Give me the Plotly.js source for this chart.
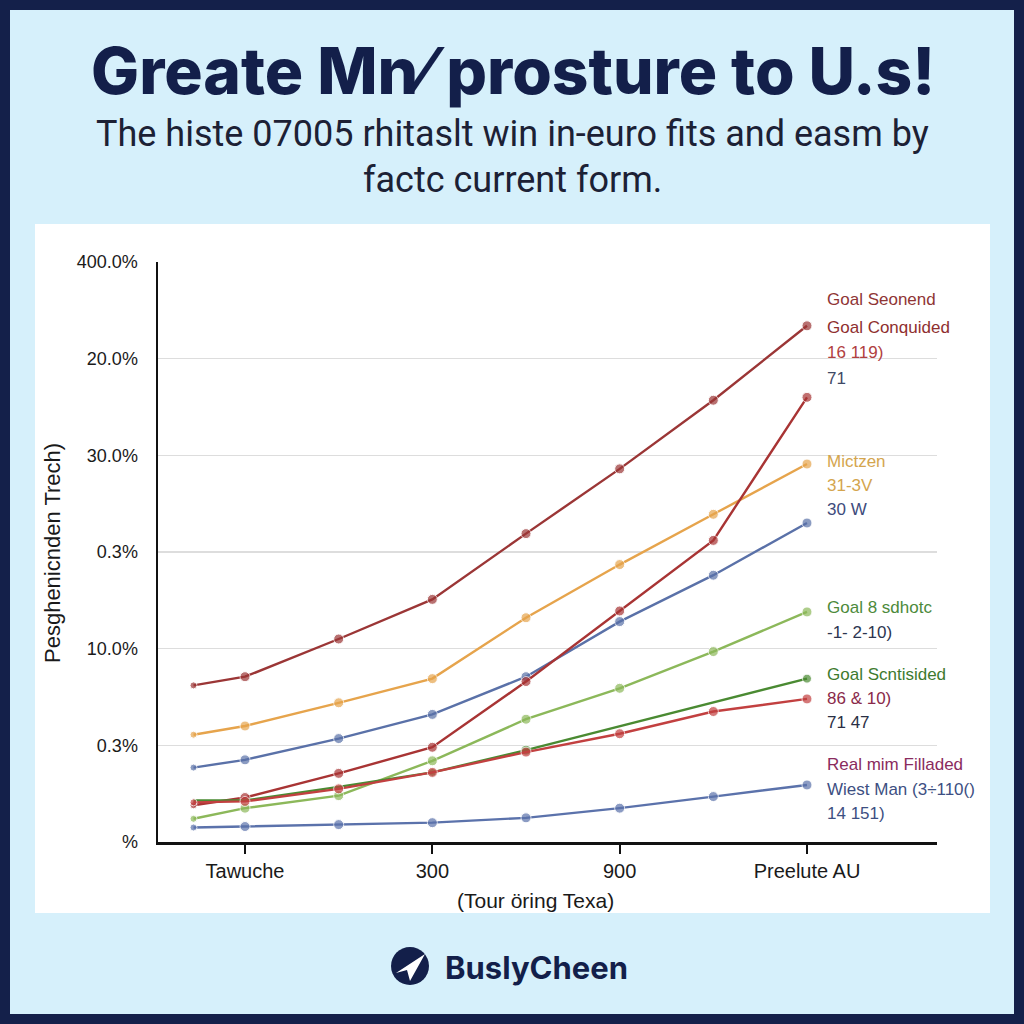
<!DOCTYPE html>
<html>
<head>
<meta charset="utf-8">
<script src="https://cdn.plot.ly/plotly-3.0.1.min.js"></script>
<style>html,body{margin:0;padding:0;background:#14204a;}#chart{width:1024px;height:1024px;}</style>
</head>
<body>
<div id="chart"></div>
<script>
// ---- data ----
const xVals = [0.45, 1, 2, 3, 4, 5, 6, 7];
const xTickVals = [1, 3, 5, 7];
const xTickLabels = ['Tawuche', '300', '900', 'Preelute AU'];
const yTickVals = [0, 1, 2, 3, 4, 5, 6];
const yTickLabels = ['%', '0.3%', '10.0%', '0.3%', '30.0%', '20.0%', '400.0%'];

const goalConquided = [1.62, 1.71, 2.10, 2.51, 3.19, 3.86, 4.57, 5.34];
const mictzen       = [1.11, 1.20, 1.44, 1.69, 2.32, 2.87, 3.39, 3.91];
const thirtyW       = [0.77, 0.85, 1.07, 1.32, 1.71, 2.28, 2.76, 3.30];
const seventyOne    = [0.38, 0.46, 0.71, 0.98, 1.66, 2.39, 3.12, 4.60];
const goalSdhotc    = [0.24, 0.35, 0.48, 0.84, 1.27, 1.59, 1.97, 2.38];
const goalScntisided= [0.43, 0.43, 0.57, 0.72, 0.95, null, null, 1.69];
const eightySix     = [0.41, 0.42, 0.55, 0.72, 0.93, 1.12, 1.35, 1.48];
const westMan       = [0.15, 0.16, 0.18, 0.20, 0.25, 0.35, 0.47, 0.59];

const seriesNames = ['Goal Conquided', 'Mictzen', '30 W', '71', 'Goal 8 sdhotc', 'Goal Scntisided', '86 & 10)', 'Wiest Man'];
const seriesData = [goalConquided, mictzen, thirtyW, seventyOne, goalSdhotc, goalScntisided, eightySix, westMan];
const seriesColors = ['#9b3636', '#e6a44c', '#5a71a8', '#a83434', '#8cb85a', '#4a8a32', '#c24040', '#5b72ab'];

const labelTexts = ['Goal Seonend', 'Goal Conquided', '16 119)', '71', 'Mictzen', '31-3V', '30 W',
  'Goal 8 sdhotc', '-1- 2-10)', 'Goal Scntisided', '86 & 10)', '71 47', 'Real mim Filladed', 'Wiest Man (3÷110()', '14 151)'];
const labelColors = ['#8f3535', '#8f2f2f', '#b04040', '#3f4a66', '#d4a54e', '#d4a54e', '#3e4b7c',
  '#4d8a3b', '#2d3550', '#3e7a2e', '#8a2a4a', '#2a2f45', '#8a2b5e', '#3d4f82', '#3d4f82'];
const labelY = [299, 327, 352, 378, 461, 485, 509, 607, 632, 674, 698, 722, 764, 789, 813];

// ---- layout helpers (pixel -> paper) ----
const L = 158, R = 937, T = 262, B = 842;
const px = X => (X - L) / (R - L);
const py = Y => (B - Y) / (B - T);

const traces = seriesData.map((d, i) => ({
  type: 'scatter', mode: 'lines+markers', x: xVals, y: d, name: seriesNames[i],
  connectgaps: true, cliponaxis: false,
  line: {color: seriesColors[i], width: 2.4},
  marker: {color: seriesColors[i], size: i === 5 ? [0, 0, 0, 8, 10, 0, 0, 9] : [7, 10, 10, 10, 10, 10, 10, 10]},
  hoverinfo: 'skip'
}));

const FONT = 'Liberation Sans, Arial, sans-serif';
const annotations = [];
annotations.push({xref: 'paper', yref: 'paper', x: px(513), y: py(70), text: 'Greate Mn⁄ prosture to U.s!',
  showarrow: false, xanchor: 'center', yanchor: 'middle',
  font: {family: 'Inter, sans-serif', size: 64, weight: 800, color: '#131f4a'}});
annotations.push({xref: 'paper', yref: 'paper', x: px(512), y: py(134), text: 'The histe 07005 rhitaslt win in-euro fits and easm by',
  showarrow: false, xanchor: 'center', yanchor: 'middle',
  font: {family: 'Roboto, sans-serif', size: 36, color: '#1c2135'}});
annotations.push({xref: 'paper', yref: 'paper', x: px(512), y: py(180), text: 'factc current form.',
  showarrow: false, xanchor: 'center', yanchor: 'middle',
  font: {family: 'Roboto, sans-serif', size: 36, color: '#1c2135'}});
annotations.push({xref: 'paper', yref: 'paper', x: px(52), y: py(553), text: 'Pesghenicnden Trech)', textangle: -90,
  showarrow: false, xanchor: 'center', yanchor: 'middle', font: {family: FONT, size: 22, color: '#1a1a1a'}});
annotations.push({xref: 'paper', yref: 'paper', x: px(535), y: py(900), text: '(Tour öring Texa)',
  showarrow: false, xanchor: 'center', yanchor: 'middle', font: {family: FONT, size: 21, color: '#1a1a1a'}});
annotations.push({xref: 'paper', yref: 'paper', x: px(536), y: py(967), text: '<b>BuslyCheen</b>',
  showarrow: false, xanchor: 'center', yanchor: 'middle', font: {family: 'Inter, sans-serif', size: 31, color: '#131f4a'}});
labelTexts.forEach((t, i) => annotations.push({xref: 'paper', yref: 'paper', x: px(825), y: py(labelY[i]), text: t,
  showarrow: false, xanchor: 'left', yanchor: 'middle', font: {family: FONT, size: 17, color: labelColors[i]}}));

const plane = `M ${px(396)} ${py(973)} L ${px(425)} ${py(954)} L ${px(410)} ${py(981)} L ${px(407)} ${py(970)} Z`;
const shapes = [
  {type: 'rect', xref: 'paper', yref: 'paper', x0: px(10), x1: px(1014), y0: py(10), y1: py(1014), fillcolor: '#d6f0fb', line: {width: 0}, layer: 'below'},
  {type: 'rect', xref: 'paper', yref: 'paper', x0: px(35), x1: px(990), y0: py(224), y1: py(913), fillcolor: '#ffffff', line: {width: 0}, layer: 'below'},
  {type: 'circle', xref: 'paper', yref: 'paper', x0: px(391), x1: px(429), y0: py(947), y1: py(985), fillcolor: '#131f4a', line: {width: 0}},
  {type: 'path', xref: 'paper', yref: 'paper', path: plane, fillcolor: '#ffffff', line: {width: 0}}
];

const layout = {
  width: 1024, height: 1024,
  margin: {l: L, r: 1024 - R, t: T, b: 1024 - B, pad: 0},
  paper_bgcolor: '#14204a', plot_bgcolor: '#ffffff',
  showlegend: false,
  xaxis: {range: [0.071, 8.388], tickmode: 'array', tickvals: xTickVals, ticktext: xTickLabels,
    showgrid: false, zeroline: false, showline: true, linecolor: '#111', linewidth: 2.5,
    ticks: 'outside', ticklen: 9, tickwidth: 2, tickcolor: '#111',
    tickfont: {family: FONT, size: 20, color: '#1a1a1a'}},
  yaxis: {range: [0, 6], tickmode: 'array', tickvals: yTickVals, ticktext: yTickLabels,
    showgrid: true, gridcolor: '#dddddd', gridwidth: 1.5, zeroline: false,
    showline: true, linecolor: '#111', linewidth: 2.5, ticks: '', ticklabelstandoff: 14,
    tickfont: {family: FONT, size: 18, color: '#1a1a1a'}},
  annotations: annotations,
  shapes: shapes
};

Plotly.newPlot('chart', traces, layout, {displayModeBar: false, staticPlot: true});
</script>
</body>
</html>
